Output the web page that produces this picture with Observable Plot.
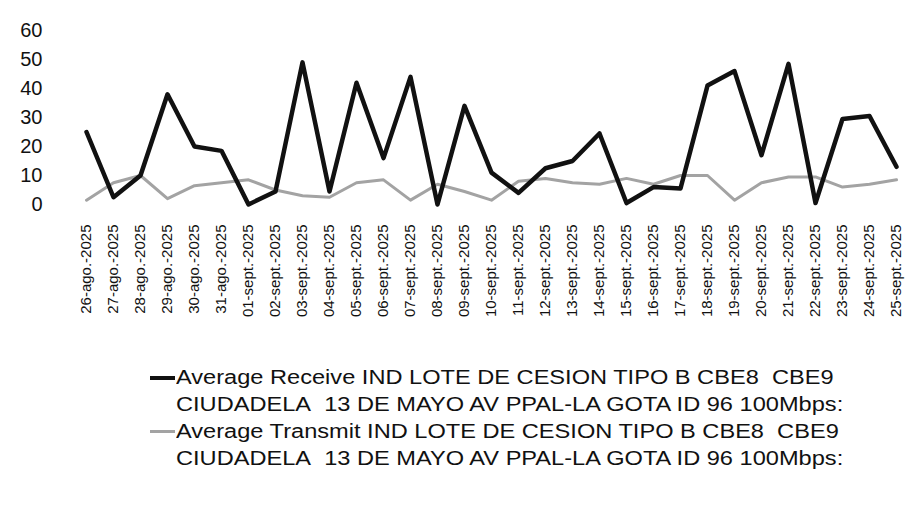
<!DOCTYPE html>
<html>
<head>
<meta charset="utf-8">
<script src="https://cdn.jsdelivr.net/npm/d3@7"></script>
<script src="https://cdn.jsdelivr.net/npm/@observablehq/plot@0.6"></script>
<style>
  html, body { margin: 0; padding: 0; background: #fff; }
  body { width: 920px; height: 507px; overflow: hidden; font-family: "Liberation Sans", Arial, sans-serif; }
  #legend { position: absolute; left: 0; top: 364px; width: 920px; }
  .entry { position: relative; height: 54px; }
  .swatch { position: absolute; left: 150px; top: 12px; width: 25px; }
  .txt { position: absolute; left: 176px; top: 0; font-size: 20px; line-height: 27px; color: #111;
         transform: scaleX(1.18); transform-origin: left top; white-space: nowrap; }
</style>
</head>
<body>
<div id="chart"></div>
<div id="legend"></div>
<script>
const labels = [
  "26-ago.-2025","27-ago.-2025","28-ago.-2025","29-ago.-2025","30-ago.-2025","31-ago.-2025",
  "01-sept.-2025","02-sept.-2025","03-sept.-2025","04-sept.-2025","05-sept.-2025","06-sept.-2025",
  "07-sept.-2025","08-sept.-2025","09-sept.-2025","10-sept.-2025","11-sept.-2025","12-sept.-2025",
  "13-sept.-2025","14-sept.-2025","15-sept.-2025","16-sept.-2025","17-sept.-2025","18-sept.-2025",
  "19-sept.-2025","20-sept.-2025","21-sept.-2025","22-sept.-2025","23-sept.-2025","24-sept.-2025",
  "25-sept.-2025"
];
const receive = [25, 2.5, 10, 38, 20, 18.5, 0, 4.5, 49, 4.5, 42, 16, 44, 0, 34, 11, 4, 12.5, 15, 24.5, 0.5, 6, 5.5, 41, 46, 17, 48.5, 0.5, 29.5, 30.5, 13];
const transmit = [1.5, 7.5, 10, 2, 6.5, 7.5, 8.5, 5, 3, 2.5, 7.5, 8.5, 1.5, 7, 4.5, 1.5, 8, 9, 7.5, 7, 9, 7, 10, 10, 1.5, 7.5, 9.5, 9.5, 6, 7, 8.5];
const yTicks = [0, 10, 20, 30, 40, 50, 60];
const seriesNames = [
  ["Average Receive IND LOTE DE CESION TIPO B CBE8\u00a0 CBE9", "CIUDADELA\u00a0 13 DE MAYO AV PPAL-LA GOTA ID 96 100Mbps:"],
  ["Average Transmit IND LOTE DE CESION TIPO B CBE8\u00a0 CBE9", "CIUDADELA\u00a0 13 DE MAYO AV PPAL-LA GOTA ID 96 100Mbps:"]
];
const seriesColors = ["#111111", "#a3a3a3"];
const seriesWidths = [4.5, 3];

const rows = labels.map((d, i) => ({date: d, receive: receive[i], transmit: transmit[i]}));

const chart = Plot.plot({
  width: 920,
  height: 330,
  marginTop: 30,
  marginBottom: 126,
  marginLeft: 82,
  marginRight: 20,
  style: {fontFamily: "Liberation Sans, Arial, sans-serif", color: "#111", background: "#fff"},
  x: {type: "point", domain: labels, padding: 0},
  y: {domain: [0, 60]},
  marks: [
    Plot.axisY({ticks: yTicks, tickSize: 0, tickPadding: 40, fontSize: 20, label: null}),
    Plot.axisX({tickSize: 0, tickRotate: -90, tickPadding: 20, fontSize: 15, label: null}),
    Plot.line(rows, {x: "date", y: "transmit", stroke: seriesColors[1], strokeWidth: seriesWidths[1]}),
    Plot.line(rows, {x: "date", y: "receive", stroke: seriesColors[0], strokeWidth: seriesWidths[0]})
  ]
});
document.getElementById("chart").appendChild(chart);

const legend = document.getElementById("legend");
seriesNames.forEach((lines, i) => {
  const e = document.createElement("div");
  e.className = "entry";
  const s = document.createElement("div");
  s.className = "swatch";
  s.style.borderTop = `${seriesWidths[i]}px solid ${seriesColors[i]}`;
  e.appendChild(s);
  const t = document.createElement("div");
  t.className = "txt";
  t.innerHTML = lines.join("<br>");
  e.appendChild(t);
  legend.appendChild(e);
});
</script>
</body>
</html>
